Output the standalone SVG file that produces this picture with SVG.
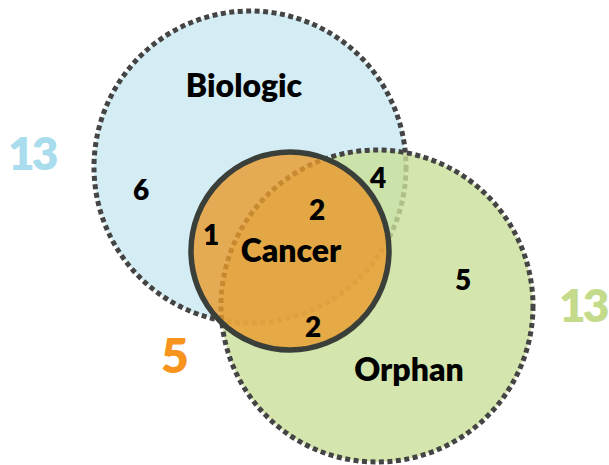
<svg xmlns="http://www.w3.org/2000/svg" width="609" height="465" viewBox="0 0 609 465">
<style>
.ring{stroke:#444444;stroke-width:5;stroke-dasharray:5 3.5;}
.lbl{font-family:Lato,"Liberation Sans",sans-serif;font-weight:800;fill:#000;text-anchor:middle;}
.big{font-family:Lato,"Liberation Sans",sans-serif;font-weight:800;font-size:48px;}
.num13{font-family:Lato,"Liberation Sans",sans-serif;font-weight:800;font-size:46px;letter-spacing:-3px;}
</style>
<rect width="609" height="465" fill="#ffffff"/>
<g id="biologic">
<circle cx="250" cy="167" r="156" fill="#d4edf4" class="ring"/>
</g>
<g id="orphan">
<circle cx="377" cy="306" r="156" fill="#c9de99" fill-opacity="0.8" class="ring"/>
</g>
<g id="cancer">
<circle cx="290" cy="251" r="99" fill="#e89a2c" fill-opacity="0.8" stroke="#3a3f3a" stroke-width="5.5"/>
</g>
<g id="labels">
<text class="lbl" x="244" y="97" font-size="32">Biologic</text>
<text class="lbl" x="291" y="262" font-size="32">Cancer</text>
<text class="lbl" x="409" y="381" font-size="32">Orphan</text>
<text class="lbl" x="141" y="200" font-size="28">6</text>
<text class="lbl" x="211" y="245" font-size="28">1</text>
<text class="lbl" x="317" y="220" font-size="28">2</text>
<text class="lbl" x="378" y="188" font-size="28">4</text>
<text class="lbl" x="463" y="290" font-size="28">5</text>
<text class="lbl" x="313" y="337" font-size="28">2</text>
<text class="num13" x="8" y="170" fill="#a9dcec">13</text>
<text class="big" x="175" y="373" fill="#f7941d" text-anchor="middle">5</text>
<text class="num13" x="559" y="322" fill="#c3db8b">13</text>
</g>
<g id="connectors"/>
</svg>
